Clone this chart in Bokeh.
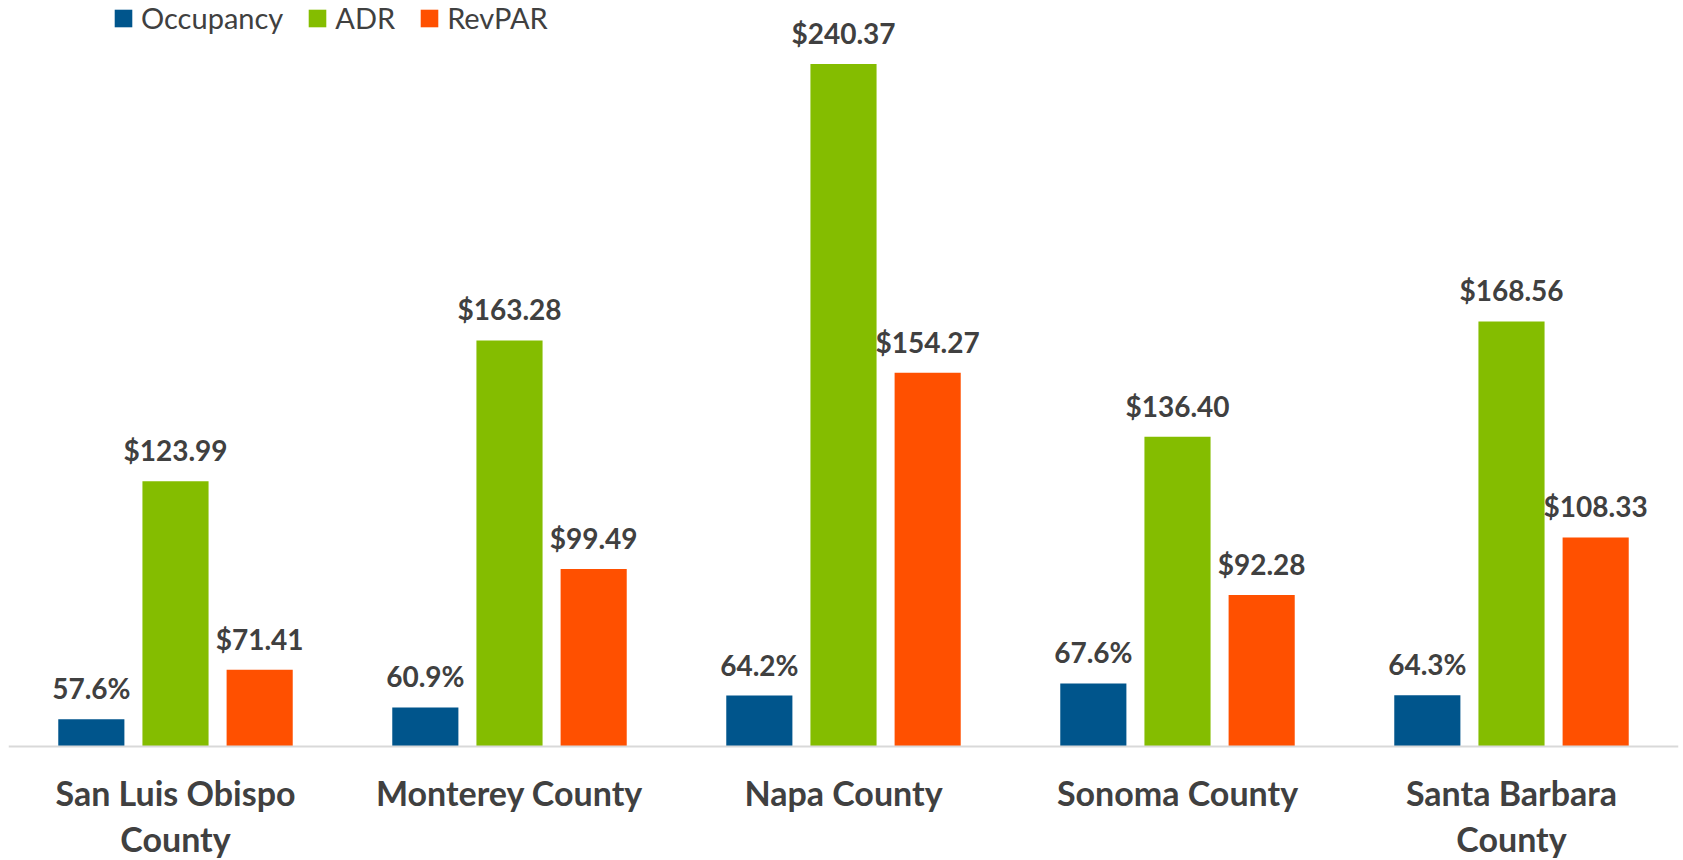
from bokeh.plotting import figure
from bokeh.models import ColumnDataSource, FactorRange, Range1d, LabelSet, Span, Legend, LegendItem
from bokeh.transform import dodge
from bokeh.core.properties import value
from bokeh.embed import file_html
from bokeh.resources import INLINE

# ---- data ----
counties = ["San Luis Obispo County", "Monterey County", "Napa County",
            "Sonoma County", "Santa Barbara County"]
label_line1 = ["San Luis Obispo", "Monterey County", "Napa County",
               "Sonoma County", "Santa Barbara"]
label_line2 = ["County", "", "", "", "County"]
occupancy = [57.6, 60.9, 64.2, 67.6, 64.3]
adr = [123.99, 163.28, 240.37, 136.40, 168.56]
revpar = [71.41, 99.49, 154.27, 92.28, 108.33]
series_names = ["Occupancy", "ADR", "RevPAR"]
AXIS_MIN = 50          # value axis floor of the original chart

# ---- styling ----
COLORS = ["#00558C", "#84BD00", "#FF5000"]
TEXT = "#404040"
W, H = 1683, 860
PX_PER_UNIT = 3.585
BASE_PX = 746
y_top = AXIS_MIN + BASE_PX / PX_PER_UNIT
y_bot = AXIS_MIN - (H - BASE_PX) / PX_PER_UNIT

src = ColumnDataSource(dict(
    county=counties,
    line1=label_line1,
    line2=label_line2,
    occ=occupancy,
    adr=adr,
    rev=revpar,
    occ_t=[f"{v:.1f}%" for v in occupancy],
    adr_t=[f"${v:.2f}" for v in adr],
    rev_t=[f"${v:.2f}" for v in revpar],
))

p = figure(width=W, height=H, x_range=FactorRange(*counties),
           y_range=Range1d(y_bot, y_top),
           x_axis_location=None, y_axis_location=None,
           toolbar_location=None, output_backend="svg",
           min_border_left=8, min_border_right=5,
           min_border_top=0, min_border_bottom=0,
           outline_line_color=None,
           background_fill_color="white", border_fill_color="white")
p.xgrid.grid_line_color = None
p.ygrid.grid_line_color = None

OFF = 0.252
BW = 0.198
renderers = []
for col, off, color in zip(["occ", "adr", "rev"], [-OFF, 0, OFF], COLORS):
    r = p.vbar(x=dodge("county", off, range=p.x_range), top=col, bottom=AXIS_MIN,
               width=BW, source=src, fill_color=color, line_color=None)
    renderers.append(r)

# baseline
p.add_layout(Span(location=AXIS_MIN, dimension="width",
                  line_color="#d9d9d9", line_width=2))

# data labels
for col, off in zip(["occ", "adr", "rev"], [-OFF, 0, OFF]):
    p.add_layout(LabelSet(x=dodge("county", off, range=p.x_range), y=col,
                          text=col + "_t", source=src,
                          text_align="center", text_baseline="alphabetic",
                          y_offset=20, text_font=value("Lato"),
                          text_font_style="bold",
                          text_font_size="28px", text_color=TEXT))

# category labels
for col, yo in [("line1", -59), ("line2", -105)]:
    p.add_layout(LabelSet(x="county", y=AXIS_MIN, text=col, source=src,
                          text_align="center", text_baseline="alphabetic",
                          y_offset=yo, text_font=value("Lato"),
                          text_font_style="bold",
                          text_font_size="34px", text_color=TEXT))

legend = Legend(items=[LegendItem(label=n, renderers=[r]) for n, r in zip(series_names, renderers)],
                location=(104, 825), orientation="horizontal",
                padding=0, margin=0, spacing=23,
                glyph_width=22, glyph_height=22, label_standoff=7,
                label_text_font="Lato", label_text_font_size="29px",
                label_text_color=TEXT, border_line_color=None,
                background_fill_alpha=0)
p.add_layout(legend)

open("out.html", "w").write(file_html(p, INLINE))
